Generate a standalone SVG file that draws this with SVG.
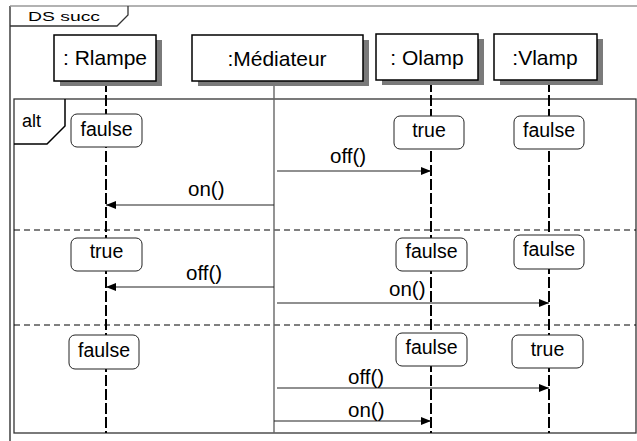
<svg xmlns="http://www.w3.org/2000/svg" width="637" height="441" viewBox="0 0 637 441">
<style>
text{font-family:"Liberation Sans",Arial,sans-serif;fill:#000}
.obj{fill:#fff;stroke:#000;stroke-width:1.5}
.shadow{fill:#7a7a7a}
.olbl{font-size:21px;text-anchor:middle}
.life{stroke:#000;stroke-width:2;stroke-dasharray:11 3;fill:none}
.state{fill:#fff;stroke:#222;stroke-width:1}
.slbl{font-size:19.5px;text-anchor:middle}
.msg{stroke:#222;stroke-width:1.2;fill:none;marker-end:url(#ah)}
.mlbl{font-size:20.5px}
.frame{fill:none;stroke:#333;stroke-width:1.3}
.sep{stroke:#000;stroke-width:1;stroke-dasharray:6 4}
</style>
<defs>
<marker id="ah" viewBox="0 0 10 8" refX="10" refY="4" markerWidth="10" markerHeight="8" markerUnits="userSpaceOnUse" orient="auto">
<path d="M0,0 L10,4 L0,8 Z" fill="#000"/>
</marker>
</defs>
<rect width="637" height="441" fill="#fff"/>
<g id="frame">
<path d="M10,441 V6" stroke="#222" stroke-width="1.3" fill="none"/>
<path d="M10,6 H637" stroke="#999" stroke-width="1.3" fill="none"/>
<path d="M10,26 H117 L128,15 V6" class="frame" stroke="#000"/>
<text x="28" y="21" font-size="12" textLength="72" lengthAdjust="spacingAndGlyphs">DS succ</text>
</g>
<g id="alt">
<rect x="14" y="99" width="622" height="334" class="frame"/>
<path d="M14,144 H47 L65,126 V99" fill="none" stroke="#000" stroke-width="1.5"/>
<text x="22" y="127" font-size="18">alt</text>
<line x1="14" y1="230" x2="636" y2="230" class="sep"/>
<line x1="14" y1="325" x2="636" y2="325" class="sep"/>
</g>
<g id="lifelines">
<line x1="106" y1="81" x2="106" y2="433" class="life"/>
<line x1="274" y1="81" x2="274" y2="433" stroke="#666" stroke-width="1.4"/>
<line x1="431" y1="81" x2="431" y2="433" class="life"/>
<line x1="549" y1="81" x2="549" y2="433" class="life"/>
</g>
<g id="rlampe">
<rect x="60" y="40" width="102" height="46" class="shadow"/>
<rect x="54" y="35" width="102" height="46" class="obj"/>
<text x="105" y="65" class="olbl">: Rlampe</text>
</g>
<g id="mediateur">
<rect x="198" y="40" width="171" height="46" class="shadow"/>
<rect x="192" y="35" width="171" height="46" class="obj" stroke-width="2.2"/>
<text x="277" y="66" class="olbl">:Médiateur</text>
</g>
<g id="olamp">
<rect x="382" y="39" width="102" height="46" class="shadow"/>
<rect x="376" y="34" width="102" height="46" class="obj"/>
<text x="427" y="65" class="olbl">: Olamp</text>
</g>
<g id="vlamp">
<rect x="500" y="39" width="103" height="46" class="shadow"/>
<rect x="494" y="34" width="103" height="46" class="obj"/>
<text x="545" y="65" class="olbl">:Vlamp</text>
</g>
<g id="states">
<g id="s-r1"><rect x="71" y="114" width="71" height="33" rx="6" class="state"/><text x="106.5" y="136" class="slbl">faulse</text></g>
<g id="s-o1"><rect x="394" y="116" width="70" height="33" rx="6" class="state"/><text x="429" y="137" class="slbl">true</text></g>
<g id="s-v1"><rect x="514" y="116" width="70" height="33" rx="6" class="state"/><text x="549" y="137" class="slbl">faulse</text></g>
<g id="s-r2"><rect x="71" y="238" width="71" height="33" rx="6" class="state"/><text x="106.5" y="258" class="slbl">true</text></g>
<g id="s-o2"><rect x="396" y="238" width="71" height="33" rx="6" class="state"/><text x="431.5" y="258" class="slbl">faulse</text></g>
<g id="s-v2"><rect x="514" y="235" width="70" height="34" rx="6" class="state"/><text x="549" y="256" class="slbl">faulse</text></g>
<g id="s-r3"><rect x="69" y="335" width="70" height="34" rx="6" class="state"/><text x="104" y="357" class="slbl">faulse</text></g>
<g id="s-o3"><rect x="396" y="333" width="71" height="33" rx="6" class="state"/><text x="431.5" y="354" class="slbl">faulse</text></g>
<g id="s-v3"><rect x="512" y="335" width="71" height="33" rx="6" class="state"/><text x="547.5" y="356" class="slbl">true</text></g>
</g>
<g id="connectors">
<line x1="277" y1="171" x2="431" y2="171" class="msg"/>
<text x="330" y="163" class="mlbl">off()</text>
<line x1="274" y1="205" x2="106" y2="205" class="msg" stroke="#555"/>
<text x="188" y="196" class="mlbl">on()</text>
<line x1="274" y1="287" x2="106" y2="287" class="msg" stroke="#555"/>
<text x="186" y="280" class="mlbl">off()</text>
<line x1="277" y1="303" x2="549" y2="303" class="msg"/>
<text x="389" y="296" class="mlbl">on()</text>
<line x1="277" y1="388" x2="549" y2="388" class="msg"/>
<text x="348" y="384" class="mlbl">off()</text>
<line x1="274" y1="421" x2="431" y2="421" class="msg" stroke="#555"/>
<text x="348" y="417" class="mlbl">on()</text>
</g>
</svg>
